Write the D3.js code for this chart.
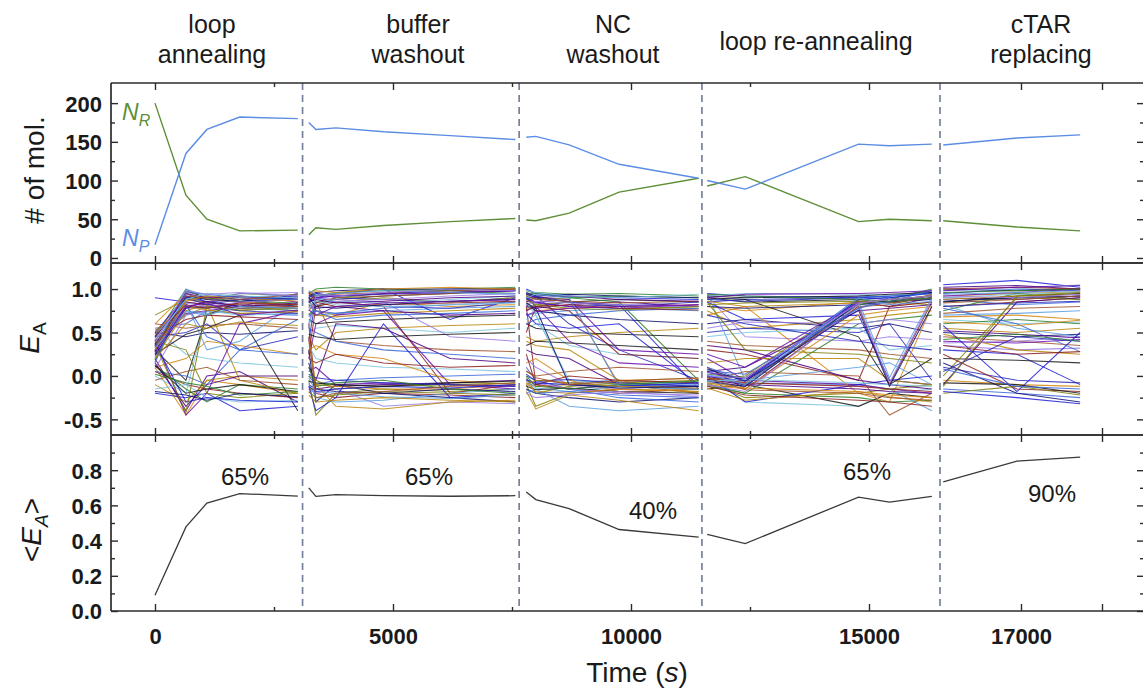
<!DOCTYPE html>
<html>
<head>
<meta charset="utf-8">
<script src="https://cdn.jsdelivr.net/npm/d3@7"></script>
<style>
  body { margin: 0; background: #fff; }
  text { font-family: "Liberation Sans", Arial, Helvetica, sans-serif; }
</style>
</head>
<body>
<svg id="chart" width="1143" height="690"></svg>
<script>
// ---------- data ----------
const phaseNames = [["loop", "annealing"], ["buffer", "washout"], ["NC", "washout"], ["loop re-annealing"], ["cTAR", "replacing"]];

// measurement times (s) of each phase; the last phase sits on an expanded axis segment
const phaseTimes = [
  [0, 650, 1090, 1780, 3000],
  [3230, 3380, 3800, 4800, 6200, 7570],
  [7800, 8000, 8700, 9750, 11420],
  [11600, 12400, 14780, 15430, 16320],
  [16040, 16950, 17730]
];

// phase boundaries (s)
const phaseBounds = [3100, 7650, 11490, 16000];

// number of molecules in the R (green) and P (blue) states
const nR = [
  [200, 81, 50, 35, 36],
  [30, 39, 37, 42, 47, 51],
  [49, 48, 58, 85, 103],
  [93, 105, 47, 50, 48],
  [48, 40, 35]
];
const nP = [
  [17, 135, 166, 182, 180],
  [175, 166, 168, 163, 158, 153],
  [156, 157, 146, 121, 103],
  [100, 89, 147, 145, 147],
  [146, 155, 159]
];

// ensemble-averaged FRET efficiency
const meanEA = [
  [0.09, 0.478, 0.613, 0.667, 0.653],
  [0.70, 0.651, 0.661, 0.655, 0.652, 0.655],
  [0.676, 0.633, 0.582, 0.463, 0.42],
  [0.436, 0.383, 0.647, 0.619, 0.651],
  [0.733, 0.852, 0.874]
];

const percentLabels = ["65%", "65%", "40%", "65%", "90%"];

// single-molecule E_A traces (x100), one string per molecule, one value per measurement time
const eaPhase1 = [
  "90 85 82 80 78", "30 98 90 92 88", "35 95 85 88 90", "10 -45 -5 -10 -20", "20 -40 0 5 -30",
  "40 70 80 75 80", "55 60 75 72 70", "5 -10 -15 -20 -25", "45 100 88 95 92", "25 75 72 78 75",
  "0 -20 75 70 72", "-10 -30 -5 0 -5", "50 45 50 48 52", "60 55 58 60 55", "35 80 78 82 80",
  "15 90 85 95 96", "-20 -25 -20 -40 -35", "30 -5 70 85 88", "45 50 60 30 45", "10 20 40 35 25",
  "38 72 75 80 82", "70 88 85 80 75", "5 0 -10 30 65", "28 85 82 78 80", "12 -15 -30 -10 -15",
  "48 85 30 40 85", "55 25 20 15 10", "20 75 82 -5 -20", "33 90 92 88 80", "-5 5 10 -5 -10",
  "42 -45 -20 60 75", "8 70 75 85 90", "50 92 85 80 95", "25 48 55 70 -40", "36 78 80 75 72",
  "60 95 88 85 82", "15 -35 -10 0 0", "40 30 -20 -25 -20", "22 82 45 30 25", "45 65 70 68 65",
  "18 88 90 86 84", "32 100 92 90 94", "-15 -10 -25 -30 -28", "52 80 76 72 74",
  "28 92 88 86 90", "34 88 84 82 80", "40 95 90 92 85", "26 84 80 85 88", "38 -30 -25 -28 -30",
  "12 -20 -15 -10 -18", "44 90 82 88 92", "30 86 92 90 86", "24 78 86 80 84", "36 -42 80 76 78",
  "16 96 94 90 88", "46 82 78 84 82", "2 -8 -12 -22 -18", "32 74 70 80 78", "42 88 95 92 90",
  "20 60 55 62 58", "-18 -22 -28 -20 -24", "48 92 90 88 94", "27 80 84 70 76", "39 98 94 96 92"
];
const eaPhase2 = [
  "95 90 92 95 98 100", "90 85 88 92 95 98", "85 95 90 88 85 90", "80 75 70 85 80 82",
  "-10 -15 -12 -10 -8 -5", "-5 -45 -20 -15 -18 -15", "0 -10 -5 -2 0 2", "60 -20 -25 -20 -22 -25",
  "70 80 90 95 100 100", "88 70 72 75 78 80", "50 55 58 55 50 55", "45 30 50 55 58 60",
  "30 -30 -10 -20 -25 -30", "75 85 40 35 30 28", "20 60 70 75 -10 -15", "-15 -20 -15 -35 -30 -32",
  "92 90 95 100 65 90", "65 60 62 65 68 70", "40 90 85 80 78 85", "-20 -10 -12 -15 -15 -10",
  "10 -5 60 55 20 15", "85 80 85 90 85 90", "55 50 40 30 25 20", "25 80 85 80 -20 -10",
  "95 100 102 100 98 95", "-8 -25 -30 -28 -20 -15", "35 20 15 10 8 5", "72 70 68 72 75 78",
  "15 -15 -18 -20 -15 -18", "80 85 90 92 95 100", "5 10 -10 -8 -10 -12", "60 90 88 85 45 40",
  "-12 -40 -25 60 -25 -20", "48 45 42 45 48 50", "90 95 92 94 96 98", "30 35 25 20 -5 -10",
  "82 78 80 75 70 72", "0 -5 -15 -12 -10 -8", "68 75 65 70 72 75", "20 15 25 15 10 12",
  "97 92 96 98 100 102", "-2 -18 -20 -24 -26 -22", "78 88 86 84 88 92", "40 -10 -35 -38 -30 -28",
  "92 96 98 100 100 100", "88 92 94 96 98 100", "84 90 92 95 96 98", "78 82 86 88 92 95",
  "-12 -18 -15 -12 -14 -10", "-6 -8 -10 -12 -8 -6", "2 -2 -5 -8 -10 -12", "94 98 96 100 102 100",
  "86 88 84 86 90 92", "-18 -25 -22 -18 -20 -22", "70 75 72 78 82 85", "96 85 80 82 84 86",
  "10 -12 -8 -5 -15 -20", "55 92 95 98 96 94", "82 86 82 80 82 84", "-22 -30 -28 -25 -28 -30",
  "90 80 78 82 86 88", "45 -25 -20 -18 -12 -8", "76 70 80 84 86 88", "98 94 92 96 100 98"
];
const eaPhase3 = [
  "100 95 92 90 88", "95 90 85 88 85", "90 80 85 82 80", "85 75 78 80 82", "-5 -10 -15 -10 -12",
  "-10 -35 -20 -15 -18", "0 -5 -8 -5 -10", "80 -10 -15 -20 -15", "92 88 90 85 -5", "70 72 75 78 75",
  "55 60 35 25 20", "45 40 45 50 55", "-15 -20 -25 -30 -25", "85 90 88 -10 -20", "75 80 40 15 10",
  "20 10 -10 -15 -10", "88 85 80 82 -15", "60 55 50 48 45", "95 92 60 30 -5", "-8 -12 -10 -5 -3",
  "30 25 20 -10 -15", "78 82 85 80 78", "10 -5 -15 -25 -30", "50 80 75 25 20", "98 95 90 92 90",
  "-20 -15 -35 -40 -35", "65 70 -5 -10 -8", "40 35 30 -5 -20", "82 75 70 65 60", "5 0 5 10 5",
  "90 85 88 30 25", "-12 -8 -15 -20 -22", "72 60 55 60 -10", "35 40 38 35 30", "88 92 85 80 85",
  "15 20 -5 -18 -15", "80 78 82 85 80", "-2 -20 -12 -8 -5", "60 65 70 75 78", "25 -10 0 -5 -8",
  "93 96 94 95 92", "-6 -14 -18 -12 -16", "84 70 -8 -12 -10", "-18 -38 -22 -28 -40",
  "96 92 94 92 90", "92 88 86 84 86", "86 84 80 78 82", "82 86 84 82 80", "-4 -8 -10 -12 -8",
  "-12 -16 -14 -18 -20", "2 -6 -4 -8 -12", "-8 -18 -20 -15 -18", "94 90 92 88 86", "88 82 78 76 80",
  "-16 -20 -18 -22 -25", "76 80 82 78 76", "0 -12 -15 -10 -6", "90 94 90 -12 -15", "98 96 92 90 94",
  "-10 -5 -8 -12 -14", "84 78 -10 -14 -12", "6 -2 -10 -6 -2", "70 74 78 80 82", "-20 -25 -22 -18 -24"
];
const eaPhase4 = [
  "95 92 90 92 95", "90 85 88 85 90", "85 88 90 92 98", "80 75 85 80 85", "0 -10 85 80 90",
  "-5 0 88 85 82", "5 -5 90 92 95", "10 -15 80 -10 85", "-10 -20 -25 -30 -28", "-5 -8 -10 -15 -40",
  "0 -30 -35 -20 -15", "75 55 65 70 75", "60 65 55 60 50", "40 35 30 25 20", "20 -5 -10 -15 -20",
  "92 45 40 45 42", "85 65 70 -5 -10", "-15 -10 -35 -20 -25", "50 55 50 60 -5", "70 80 -20 -30 80",
  "5 10 75 78 82", "-8 -25 -20 -15 -10", "88 90 92 90 88", "30 25 -5 80 85", "-12 -20 60 65 70",
  "95 -5 10 15 -10", "45 50 55 30 35", "15 20 20 -5 -10", "80 78 82 85 88", "-5 5 0 -45 -20",
  "25 10 85 88 92", "55 62 60 65 60", "0 -30 -10 -5 0", "90 88 45 -10 20", "70 60 40 35 30",
  "-10 -15 70 75 80", "35 30 -5 -10 -15", "85 30 25 20 15", "10 -5 78 90 95", "-2 -8 -12 -15 -18",
  "2 -2 82 88 100", "-8 -12 86 -2 90", "92 95 94 93 96", "-14 -28 -18 -24 -30",
  "-6 -12 84 86 92", "-2 -8 80 82 94", "4 -4 86 84 90", "-10 -18 82 -8 88", "0 -6 88 90 96",
  "92 90 92 94 96", "88 86 90 88 92", "-8 -14 -18 -22 -25", "-4 -10 -15 -18 -20", "82 84 86 84 90",
  "6 2 78 86 98", "-12 -22 -28 -30 -35", "94 92 88 86 90", "2 -10 90 82 86", "-6 -4 -8 -10 -12",
  "86 80 84 88 92", "8 -6 76 -12 80", "-2 -16 -20 -25 -28", "90 94 95 96 98", "0 -2 84 88 92"
];
const eaPhase5 = [
  "105 110 102", "100 98 100", "95 100 98", "92 95 97", "90 88 92", "85 90 95",
  "88 82 85", "80 85 90", "75 95 88", "70 72 75", "65 60 62", "55 50 55",
  "50 45 48", "45 40 35", "40 38 42", "35 30 32", "30 25 -10", "20 18 15",
  "10 -5 -8", "-5 -10 -12", "-10 85 90", "0 90 88", "-15 -20 -25", "25 -15 -18",
  "60 65 60", "82 55 45", "98 100 105", "48 30 25", "15 -20 -30", "72 78 80",
  "92 96 100", "38 40 45", "58 -18 50", "85 92 95", "5 45 40", "68 70 65",
  "102 104 100", "-20 -12 -22", "78 60 28",
  "100 102 100", "96 98 100", "94 96 98", "90 94 96", "88 92 94", "86 90 92",
  "84 88 92", "98 102 104", "92 90 94", "-18 -25 -32", "-8 -10 -20", "80 84 86",
  "62 58 64", "52 48 44", "-12 92 96", "8 -12 -15", "35 25 28", "42 48 40"
];
const eaPhases = [eaPhase1, eaPhase2, eaPhase3, eaPhase4, eaPhase5];

// ---------- layout ----------
const svg = d3.select("#chart");
const L = 111, R = 1144;
const panels = [
  { top: 83, bottom: 263 },
  { top: 263, bottom: 435 },
  { top: 435, bottom: 611 }
];
const frameColor = "#2b2b2b";
const greenC = "#5e8e36", blueC = "#5b8de4";
const traceColors = ["#1f1fd6", "#8a1f1f", "#6a0dad", "#7f7f0a", "#101070", "#d4870f", "#7cc4de",
  "#1a1a1a", "#2d7f2d", "#9b7be6", "#3a66d8", "#a0522d", "#4b0082", "#b8860b", "#2a2ab8", "#5a9fe0"];

// time axis: continuous main segment plus an expanded last segment
const xMain = d3.scaleLinear().domain([0, 15000]).range([155, 869]);
const xLast = d3.scaleLinear().domain([16000, 17000]).range([940, 1021]);
const xOf = (t, phase) => phase === 4 ? xLast(t) : xMain(t);

const y1 = d3.scaleLinear().domain([-6.5, 226]).range([panels[0].bottom, panels[0].top]);
const y2 = d3.scaleLinear().domain([-0.68, 1.30]).range([panels[1].bottom, panels[1].top]);
const y3 = d3.scaleLinear().domain([0, 1.0]).range([panels[2].bottom, panels[2].top]);

const gPlot = svg.append("g");

// ---------- panel 2: single-molecule traces ----------
svg.append("clipPath").attr("id", "clip2")
  .append("rect").attr("x", L).attr("y", panels[1].top).attr("width", R - L).attr("height", panels[1].bottom - panels[1].top);
const gTr = gPlot.append("g").attr("clip-path", "url(#clip2)");
let ci = 0;
eaPhases.forEach((traces, p) => {
  const ts = phaseTimes[p];
  const line = d3.line().x((d, i) => xOf(ts[i], p)).y(d => y2(d));
  traces.forEach(s => {
    const vals = s.trim().split(/\s+/).map(v => +v / 100);
    gTr.append("path").attr("d", line(vals))
      .attr("fill", "none")
      .attr("stroke", traceColors[(ci++ * 7) % traceColors.length])
      .attr("stroke-width", 1.05)
      .attr("stroke-opacity", 0.85);
  });
});

// ---------- panel 1: molecule counts ----------
[[nR, greenC], [nP, blueC]].forEach(([series, col]) => {
  series.forEach((vals, p) => {
    const ts = phaseTimes[p];
    const line = d3.line().x((d, i) => xOf(ts[i], p)).y(d => y1(d));
    gPlot.append("path").attr("d", line(vals)).attr("fill", "none")
      .attr("stroke", col).attr("stroke-width", 1.4);
  });
});

// ---------- panel 3: mean E_A ----------
meanEA.forEach((vals, p) => {
  const ts = phaseTimes[p];
  const line = d3.line().x((d, i) => xOf(ts[i], p)).y(d => y3(d));
  gPlot.append("path").attr("d", line(vals)).attr("fill", "none")
    .attr("stroke", "#3a3a3a").attr("stroke-width", 1.3);
});

// ---------- phase boundaries ----------
phaseBounds.forEach((t, i) => {
  const x = i === 3 ? xLast(t) : xMain(t);
  svg.append("line").attr("x1", x).attr("x2", x)
    .attr("y1", panels[0].top).attr("y2", panels[2].bottom)
    .attr("stroke", "#76829a").attr("stroke-width", 1.7).attr("stroke-dasharray", "7,5");
});

// ---------- frames and ticks ----------
const gAx = svg.append("g");
function strip(sel) {
  sel.select(".domain").remove();
  sel.selectAll("line").attr("stroke", frameColor).attr("stroke-width", 1.4);
}
const majMain = [0, 5000, 10000, 15000], minMain = [2500, 7500, 12500];
const majLast = [17000, 18000];
panels.forEach(pn => {
  [[pn.top, d3.axisTop], [pn.bottom, d3.axisBottom]].forEach(([yy, axf]) => {
    [[xMain, majMain, 7], [xMain, minMain, 4], [xLast, majLast, 7]].forEach(([sc, vals, len]) => {
      gAx.append("g").attr("transform", `translate(0,${yy})`)
        .call(axf(sc).tickValues(vals).tickSizeInner(-len).tickSizeOuter(0).tickFormat(""))
        .call(strip);
    });
  });
});

function yTicks(scale, major, minor, labels) {
  [[major, 7], [minor, 4]].forEach(([vals, len]) => {
    gAx.append("g").attr("transform", `translate(${L},0)`)
      .call(d3.axisLeft(scale).tickValues(vals).tickSizeInner(-len).tickSizeOuter(0).tickFormat(""))
      .call(strip);
    gAx.append("g").attr("transform", `translate(${R},0)`)
      .call(d3.axisRight(scale).tickValues(vals).tickSizeInner(-len).tickSizeOuter(0).tickFormat(""))
      .call(strip);
  });
  const g = gAx.append("g").attr("transform", `translate(${L},0)`)
    .call(d3.axisLeft(scale).tickValues(major).tickSize(0).tickPadding(9)
      .tickFormat((d, i) => labels[i]));
  g.select(".domain").remove();
  g.selectAll("text").attr("font-size", 22).attr("font-weight", "bold")
    .attr("font-family", "'Liberation Sans', Arial, sans-serif").attr("fill", "#1a1a1a").attr("dy", "0.36em");
}
yTicks(y1, [0, 50, 100, 150, 200], [25, 75, 125, 175], ["0", "50", "100", "150", "200"]);
yTicks(y2, [-0.5, 0, 0.5, 1.0], [-0.25, 0.25, 0.75], ["-0.5", "0.0", "0.5", "1.0"]);
yTicks(y3, [0, 0.2, 0.4, 0.6, 0.8], [0.1, 0.3, 0.5, 0.7, 0.9], ["0.0", "0.2", "0.4", "0.6", "0.8"]);

// x tick labels
[[xMain, majMain], [xLast, [17000]]].forEach(([sc, vals]) => {
  const g = gAx.append("g").attr("transform", `translate(0,${panels[2].bottom})`)
    .call(d3.axisBottom(sc).tickValues(vals).tickSize(0).tickPadding(17).tickFormat(d3.format("d")));
  g.select(".domain").remove();
  g.selectAll("text").attr("font-size", 22).attr("font-weight", "bold")
    .attr("font-family", "'Liberation Sans', Arial, sans-serif").attr("fill", "#1a1a1a");
});

// frame lines
panels.forEach(pn => {
  [pn.top, pn.bottom].forEach(yy => {
    gAx.append("line").attr("x1", L).attr("x2", R).attr("y1", yy).attr("y2", yy)
      .attr("stroke", frameColor).attr("stroke-width", 1.7);
  });
});
[L, R].forEach(xx => {
  gAx.append("line").attr("x1", xx).attr("x2", xx).attr("y1", panels[0].top).attr("y2", panels[2].bottom)
    .attr("stroke", frameColor).attr("stroke-width", 1.7);
});

// ---------- texts ----------
const phaseCenters = [212, 418, 613, 816, 1041];
phaseNames.forEach((lines, i) => {
  const base = lines.length === 1 ? [50] : [33, 63];
  lines.forEach((s, j) => {
    svg.append("text").attr("x", phaseCenters[i]).attr("y", base[j])
      .attr("text-anchor", "middle").attr("font-size", 25).attr("fill", "#1a1a1a").text(s);
  });
});

// percent annotations (centre x, baseline y)
const pctPos = [[245, 485], [429, 485], [653, 519], [867, 480], [1052, 502]];
percentLabels.forEach((s, i) => {
  svg.append("text").attr("x", pctPos[i][0]).attr("y", pctPos[i][1])
    .attr("text-anchor", "middle").attr("font-size", 24).attr("fill", "#1a1a1a").text(s);
});

// state labels
function subLabel(x, y, main, sub, col) {
  const t = svg.append("text").attr("x", x).attr("y", y).attr("fill", col)
    .attr("font-size", 23).attr("font-style", "italic");
  t.append("tspan").text(main);
  t.append("tspan").attr("font-size", 16).attr("dy", 6).text(sub);
}
subLabel(122, 120, "N", "R", greenC);
subLabel(122, 246, "N", "P", blueC);

// axis titles
function rotTitle(x, y, parts) {
  const t = svg.append("text").attr("transform", `translate(${x},${y}) rotate(-90)`)
    .attr("text-anchor", "middle").attr("font-size", 28).attr("fill", "#1a1a1a");
  parts.forEach(p => {
    const ts = t.append("tspan").text(p.s);
    if (p.it) ts.attr("font-style", "italic");
    if (p.sub) ts.attr("font-size", 19).attr("dy", 7);
    if (p.up) ts.attr("dy", -7);
  });
}
rotTitle(44, 170, [{ s: "# of mol." }]);
rotTitle(39, 338, [{ s: "E", it: true }, { s: "A", sub: true }]);
rotTitle(41, 530, [{ s: "<" }, { s: "E", it: true }, { s: "A", it: true, sub: true }, { s: ">", up: true }]);

const xt = svg.append("text").attr("x", 637).attr("y", 682).attr("text-anchor", "middle")
  .attr("font-size", 28).attr("fill", "#1a1a1a");
xt.append("tspan").text("Time (");
xt.append("tspan").attr("font-style", "italic").text("s");
xt.append("tspan").text(")");
</script>
</body>
</html>
